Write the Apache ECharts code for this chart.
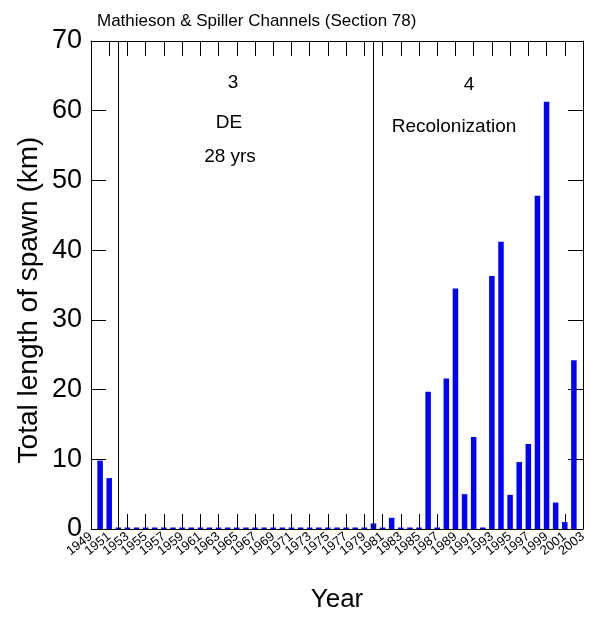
<!DOCTYPE html>
<html>
<head>
<meta charset="utf-8">
<script src="https://cdn.jsdelivr.net/npm/echarts@6/dist/echarts.min.js"></script>
<style>
  html, body { margin: 0; padding: 0; background: #fff; }
  #chart { width: 591px; height: 618px; }
</style>
</head>
<body>
<div id="chart"></div>
<script>
// years plotted (bars sit on every year, zero years show as a thin line)
var years = [1950, 1951, 1952, 1953, 1954, 1955, 1956, 1957, 1958, 1959,
  1960, 1961, 1962, 1963, 1964, 1965, 1966, 1967, 1968, 1969,
  1970, 1971, 1972, 1973, 1974, 1975, 1976, 1977, 1978, 1979,
  1980, 1981, 1982, 1983, 1984, 1985, 1986, 1987, 1988, 1989,
  1990, 1991, 1992, 1993, 1994, 1995, 1996, 1997, 1998, 1999,
  2000, 2001, 2002]
// total length of spawn (km)
var spawnKm = [9.8, 7.3, 0, 0, 0, 0, 0, 0, 0, 0,
  0, 0, 0, 0, 0, 0, 0, 0, 0, 0,
  0, 0, 0, 0, 0, 0, 0, 0, 0, 0,
  0.8, 0, 1.6, 0, 0, 0, 19.7, 0, 21.6, 34.5,
  5.0, 13.2, 0, 36.3, 41.2, 4.9, 9.6, 12.2, 47.8, 61.3,
  3.8, 1.0, 24.2]
// period boundaries
var periodLines = [1952, 1980]

var font = 'Liberation Sans, Arial, sans-serif'

var chart = echarts.init(document.getElementById('chart'))

var yearLabel = {
  rotate: 38,
  margin: 6,
  hideOverlap: false,
  fontFamily: font,
  fontSize: 13,
  color: '#000',
  formatter: function (v) { return String(v) }
}
var xBase = {
  type: 'value',
  min: 1949,
  max: 2003,
  interval: 2,
  splitLine: { show: false },
  axisLine: { show: true, onZero: false, lineStyle: { color: '#000', width: 1 } },
  axisTick: { show: true, inside: true, length: 15, lineStyle: { color: '#000', width: 1 } }
}
var yBase = {
  type: 'value',
  min: 0,
  max: 70,
  interval: 10,
  splitLine: { show: false },
  axisLine: { show: true, onZero: false, lineStyle: { color: '#000', width: 1 } },
  axisTick: { show: true, inside: true, length: 15, lineStyle: { color: '#000', width: 1 } }
}

chart.setOption({
  animation: false,
  backgroundColor: '#fff',
  title: {
    text: 'Mathieson & Spiller Channels (Section 78)',
    left: 92,
    top: 8,
    textStyle: { fontFamily: font, fontSize: 17, fontWeight: 'normal', color: '#000' }
  },
  grid: { left: 91, right: 8, top: 41, bottom: 84 },
  xAxis: [
    Object.assign({}, xBase, {
      position: 'bottom',
      name: 'Year',
      nameLocation: 'middle',
      nameGap: 58,
      nameTextStyle: { fontFamily: font, fontSize: 26, color: '#000' },
      axisLabel: Object.assign({}, yearLabel, { showMinLabel: false, showMaxLabel: false })
    }),
    Object.assign({}, xBase, { position: 'top', axisLabel: { show: false } }),
    // end labels (1949, 2003) kept on their own axis so they are not dropped for overlap
    Object.assign({}, xBase, {
      position: 'bottom',
      interval: 54,
      axisLine: { show: false, onZero: false },
      axisTick: { show: false },
      axisLabel: Object.assign({}, yearLabel, { showMinLabel: true, showMaxLabel: true })
    })
  ],
  yAxis: [
    Object.assign({}, yBase, {
      position: 'left',
      axisLabel: { fontFamily: font, fontSize: 27, color: '#000', margin: 9, padding: [8, 0, 0, 0] }
    }),
    Object.assign({}, yBase, { position: 'right', axisLabel: { show: false } })
  ],
  graphic: [
    {
      type: 'text', x: 29, y: 300, rotation: Math.PI / 2,
      style: { text: 'Total length of spawn (km)', font: '28px ' + font, fill: '#000', align: 'center', verticalAlign: 'middle' }
    },
    { type: 'text', x: 233, y: 83, style: { text: '3', font: '19px ' + font, fill: '#000', align: 'center', verticalAlign: 'middle' } },
    { type: 'text', x: 229, y: 123, style: { text: 'DE', font: '19px ' + font, fill: '#000', align: 'center', verticalAlign: 'middle' } },
    { type: 'text', x: 230, y: 157, style: { text: '28 yrs', font: '19px ' + font, fill: '#000', align: 'center', verticalAlign: 'middle' } },
    { type: 'text', x: 469, y: 85, style: { text: '4', font: '19px ' + font, fill: '#000', align: 'center', verticalAlign: 'middle' } },
    { type: 'text', x: 454, y: 127, style: { text: 'Recolonization', font: '19px ' + font, fill: '#000', align: 'center', verticalAlign: 'middle' } }
  ],
  series: [
    {
      type: 'bar',
      xAxisIndex: 0,
      yAxisIndex: 0,
      barWidth: 5.5,
      barMinHeight: 1.5,
      itemStyle: { color: '#0000ff' },
      data: years.map(function (y, i) { return [y, spawnKm[i]] }),
      markLine: {
        silent: true,
        symbol: 'none',
        label: { show: false },
        lineStyle: { color: '#000', width: 1, type: 'solid' },
        data: periodLines.map(function (y) { return { xAxis: y } })
      }
    }
  ]
})
</script>
</body>
</html>
